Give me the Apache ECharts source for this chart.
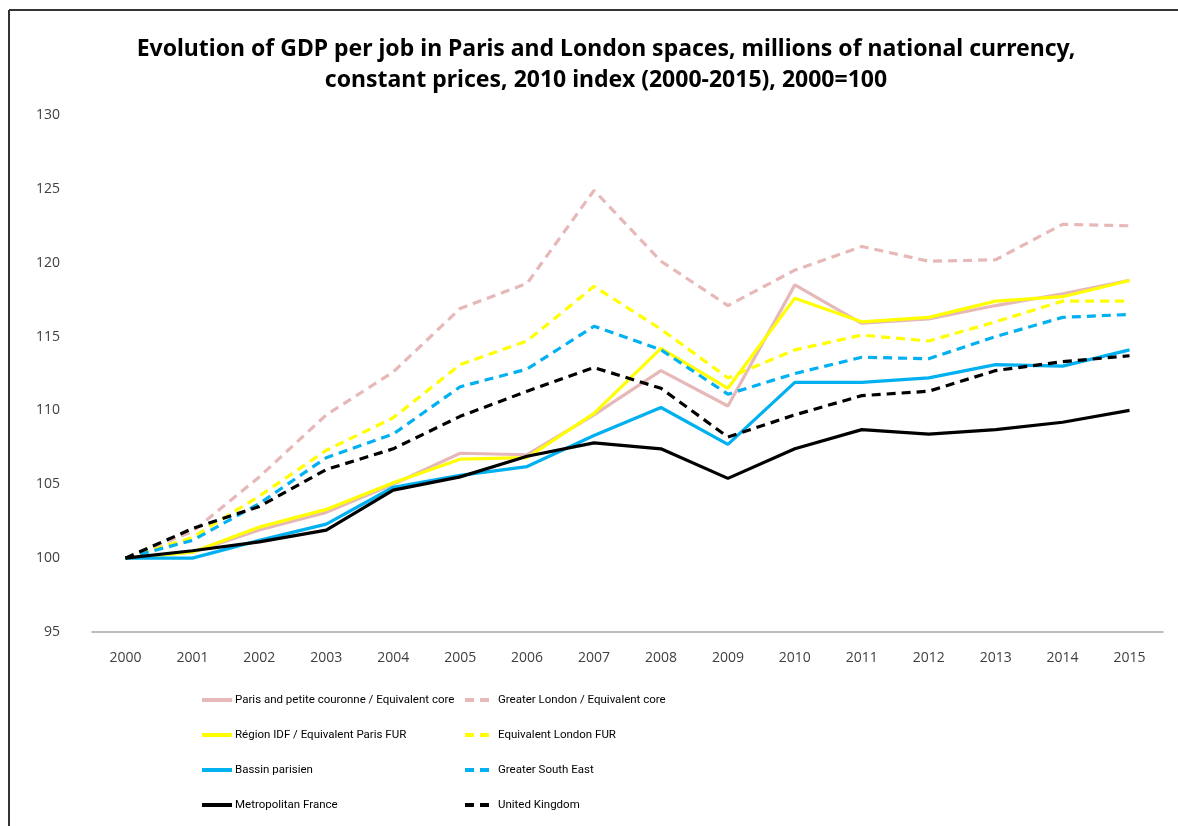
<!DOCTYPE html>
<html>
<head>
<meta charset="utf-8">
<script src="https://cdn.jsdelivr.net/npm/echarts@6/dist/echarts.min.js"></script>
<style>
  html, body { margin: 0; padding: 0; background: #fff; }
  #chart { width: 1178px; height: 826px; }
</style>
</head>
<body>
<div id="chart"></div>
<script>
// years on the x axis
const years = ["2000", "2001", "2002", "2003", "2004", "2005", "2006", "2007",
  "2008", "2009", "2010", "2011", "2012", "2013", "2014", "2015"];

// values (2000 = 100)
const parisCore = [100, 100.4, 101.9, 103.1, 105.0, 107.1, 107.0, 109.7, 112.7, 110.3, 118.5, 115.9, 116.2, 117.1, 117.9, 118.8];
const londonCore = [100, 101.8, 105.5, 109.7, 112.6, 116.9, 118.6, 124.9, 120.1, 117.1, 119.5, 121.1, 120.1, 120.2, 122.6, 122.5];
const regionIdf = [100, 100.4, 102.1, 103.3, 105.1, 106.7, 106.8, 109.8, 114.2, 111.5, 117.6, 116.0, 116.3, 117.4, 117.7, 118.8];
const londonFur = [100, 101.4, 104.2, 107.3, 109.5, 113.1, 114.7, 118.4, 115.5, 112.2, 114.1, 115.1, 114.7, 116.0, 117.4, 117.4];
const bassinParisien = [100, 100, 101.2, 102.3, 104.8, 105.6, 106.2, 108.3, 110.2, 107.7, 111.9, 111.9, 112.2, 113.1, 113.0, 114.1];
const greaterSouthEast = [100, 101.2, 103.7, 106.8, 108.4, 111.6, 112.8, 115.7, 114.1, 111.1, 112.5, 113.6, 113.5, 115.0, 116.3, 116.5];
const metroFrance = [100, 100.5, 101.1, 101.9, 104.6, 105.5, 106.9, 107.8, 107.4, 105.4, 107.4, 108.7, 108.4, 108.7, 109.2, 110.0];
const unitedKingdom = [100, 102.0, 103.5, 106.0, 107.4, 109.6, 111.3, 112.9, 111.5, 108.2, 109.7, 111.0, 111.3, 112.7, 113.3, 113.7];

const chart = echarts.init(document.getElementById("chart"));

const dash = [9, 6];
function line(name, data, color, dashed) {
  return {
    name: name,
    type: "line",
    data: data,
    symbol: "none",
    lineStyle: { color: color, width: 3.2, type: dashed ? dash : "solid" },
    itemStyle: { color: color },
    animation: false,
  };
}

const legendBase = {
  orient: "vertical",
  top: 689,
  itemWidth: 30,
  itemHeight: 12,
  itemGap: 23,
  itemStyle: { opacity: 0 },
  lineStyle: { width: 4 },
  textStyle: { fontFamily: "Roboto", fontSize: 11.5, color: "#000", padding: [0, 0, 0, -2] },
};

chart.setOption({
  backgroundColor: "#fff",
  title: {
    text: "Evolution of GDP per job in Paris and London spaces, millions of national currency,\nconstant prices, 2010 index (2000-2015), 2000=100",
    left: 601,
    textAlign: "center",
    top: 29,
    textStyle: {
      fontFamily: "Noto Sans",
      fontWeight: "bold",
      fontSize: 23,
      lineHeight: 31,
      color: "#000",
    },
  },
  graphic: [
    { type: "line", shape: { x1: 9, y1: 10, x2: 1178, y2: 10 }, style: { stroke: "#333", lineWidth: 2 } },
    { type: "line", shape: { x1: 9, y1: 10, x2: 9, y2: 826 }, style: { stroke: "#333", lineWidth: 2 } },
  ],
  legend: [
    Object.assign({}, legendBase, {
      data: ["Paris and petite couronne / Equivalent core", "Région IDF / Equivalent Paris FUR",
        "Bassin parisien", "Metropolitan France"],
      left: 195,
    }),
    Object.assign({}, legendBase, {
      data: ["Greater London / Equivalent core", "Equivalent London FUR",
        "Greater South East", "United Kingdom"],
      left: 458,
    }),
  ],
  grid: { left: 92, right: 15, top: 115, bottom: 194 },
  xAxis: {
    type: "category",
    data: years,
    boundaryGap: true,
    axisLine: { lineStyle: { color: "#a6a6a6", width: 1.5 } },
    axisTick: { show: false },
    axisLabel: { fontFamily: "Open Sans", fontSize: 14, color: "#404040", margin: 19 },
  },
  yAxis: {
    type: "value",
    min: 95,
    max: 130,
    interval: 5,
    axisLine: { show: false },
    axisTick: { show: false },
    splitLine: { show: false },
    axisLabel: { fontFamily: "Open Sans", fontSize: 14, color: "#404040", margin: 32 },
  },
  series: [
    line("Paris and petite couronne / Equivalent core", parisCore, "#E6B9B8", false),
    line("Greater London / Equivalent core", londonCore, "#E6B9B8", true),
    line("Région IDF / Equivalent Paris FUR", regionIdf, "#FFFF00", false),
    line("Equivalent London FUR", londonFur, "#FFFF00", true),
    line("Bassin parisien", bassinParisien, "#00B0F0", false),
    line("Greater South East", greaterSouthEast, "#00B0F0", true),
    line("Metropolitan France", metroFrance, "#000000", false),
    line("United Kingdom", unitedKingdom, "#000000", true),
  ],
});
</script>
</body>
</html>
